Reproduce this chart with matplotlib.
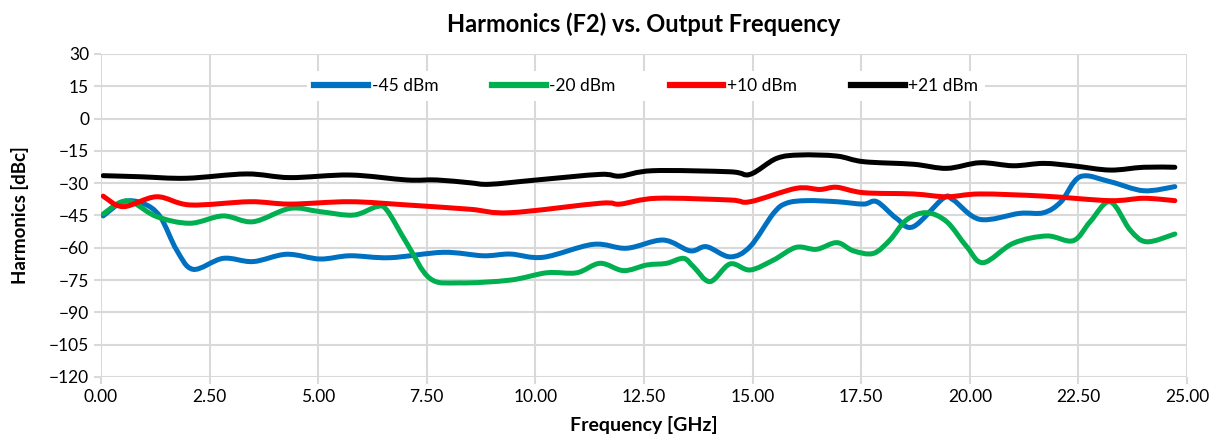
import numpy as np
import matplotlib.pyplot as plt
from matplotlib.path import Path
from matplotlib.patches import PathPatch

plt.rcParams['font.family'] = ['Lato', 'DejaVu Sans']

# -45 dBm
f_blue = [0.05, 0.51, 0.97, 1.36, 1.74, 2.12, 2.81, 3.5, 4.27, 5.04, 5.73, 6.65, 7.88, 8.8, 9.42, 10.18,
          11.33, 12.1, 12.94, 13.56, 13.94, 14.48, 14.94, 15.48, 15.78, 16.24, 16.94, 17.55, 17.86, 18.31,
          18.7, 19.39, 19.62, 20.23, 21.15, 21.7, 22.1, 22.54, 23.23, 24.0, 24.72]
h_blue = [-45.2, -38.6, -39.4, -45.5, -61, -70, -64.9, -66.4, -63, -65.2, -63.7, -64.6, -62.1, -63.7, -62.9, -64.4,
          -58.4, -60.2, -56.4, -61.4, -59.5, -64.2, -59.5, -44, -39.3, -38.1, -38.6, -39.7, -38.6, -46.3,
          -50.2, -37, -37.8, -46.8, -44, -43.7, -38.6, -27, -29.3, -33.5, -31.6]

# -20 dBm
f_green = [0.05, 0.44, 0.74, 1.28, 2.05, 2.81, 3.5, 4.35, 5.04, 5.81, 6.35, 6.58, 7.04, 7.57, 8.26, 9.42,
           10.26, 10.95, 11.49, 12.03, 12.56, 13.02, 13.41, 13.64, 14.02, 14.48, 14.94, 15.48, 16.0, 16.47,
           16.94, 17.32, 17.78, 18.16, 18.54, 19.0, 19.47, 19.93, 20.31, 21.0, 21.77, 22.38, 22.77, 23.23,
           23.69, 24.07, 24.72]
h_green = [-44.3, -38.9, -39, -45.5, -48.6, -45.2, -47.9, -41.7, -43.2, -44.8, -40.9, -42.5, -57.9, -74.2, -76.3, -75,
           -71.6, -71.6, -67.2, -70.6, -68, -67.2, -64.9, -68.8, -75.7, -67.5, -70.3, -65.7, -59.8, -60.7,
           -57.6, -61.4, -62.6, -56.4, -47.1, -43.7, -47.9, -59.5, -66.9, -57.9, -54.5, -56.7, -47.9, -38.6,
           -51.7, -57.2, -53.6]

# +10 dBm
f_red = [0.05, 0.51, 1.28, 2.05, 3.43, 4.35, 5.73, 7.04, 8.49, 9.42, 11.49, 11.95, 12.79, 14.48, 14.94,
         16.0, 16.55, 16.94, 17.55, 18.7, 19.47, 20.23, 21.7, 23.23, 24.0, 24.72]
h_red = [-36, -40.9, -36.3, -40.1, -38.6, -39.7, -38.6, -40.1, -42.1, -43.7, -39.3, -39.7, -37, -37.8, -38.6,
         -32.4, -32.9, -31.9, -34.4, -35, -36.3, -35, -36, -38.1, -37, -38.1]

# +21 dBm
f_black = [0.05, 0.9, 1.97, 3.35, 4.35, 5.73, 7.04, 7.73, 8.49, 8.95, 10.03, 11.49, 11.95, 12.7, 14.48, 14.94,
           15.55, 16.1, 16.94, 17.55, 18.7, 19.47, 20.23, 21.0, 21.7, 22.4, 23.23, 24.0, 24.72]
h_black = [-26.5, -27, -27.7, -25.7, -27.4, -26.2, -28.5, -28.5, -29.8, -30.5, -28.5, -25.9, -26.7, -24.2, -24.7, -25.9,
           -18.5, -16.9, -17.4, -20, -21.2, -23.1, -20.5, -21.9, -20.8, -22, -23.9, -22.6, -22.6]

series = [('-45 dBm', f_blue, h_blue, '#0070c0'),
          ('-20 dBm', f_green, h_green, '#00b050'),
          ('+10 dBm', f_red, h_red, '#ff0000'),
          ('+21 dBm', f_black, h_black, '#000000')]


def smooth_path(x, y):
    # excel-style smoothed line: cubic bezier through the points
    p = np.column_stack([x, y])
    pp = np.vstack([p[0], p, p[-1]])
    verts = [p[0]]
    codes = [Path.MOVETO]
    for i in range(len(p) - 1):
        c1 = pp[i + 1] + (pp[i + 2] - pp[i]) / 6
        c2 = pp[i + 2] - (pp[i + 3] - pp[i + 1]) / 6
        verts += [c1, c2, p[i + 1]]
        codes += [Path.CURVE4] * 3
    return Path(verts, codes)


fig = plt.figure(figsize=(12.12, 4.41), dpi=100)
ax = fig.add_axes([101 / 1212, 1 - 377 / 441, (1187 - 101) / 1212, (377 - 54) / 441])

for name, f, h, c in series:
    ax.add_patch(PathPatch(smooth_path(f, h), fill=False, edgecolor=c, lw=3.6,
                           joinstyle='round', capstyle='round'))
    ax.plot([], [], color=c, lw=4.5, label=name)

ax.set_xlim(0, 25)
ax.set_ylim(-120, 30)
xt = np.arange(0, 25.01, 2.5)
ax.set_xticks(xt)
ax.set_xticklabels(['%.2f' % v for v in xt])
ax.set_yticks(np.arange(-120, 31, 15))
ax.grid(True, color='#d9d9d9', lw=1.5)
ax.set_axisbelow(True)
for s in ax.spines.values():
    s.set_visible(False)
ax.tick_params(colors='#d9d9d9', width=1.5, length=5, labelcolor='black', labelsize=12.5)

ax.set_xlabel('Frequency [GHz]', fontsize=14, fontweight='bold', labelpad=8)
ax.set_ylabel('Harmonics [dBc]', fontsize=13.5, fontweight='bold', labelpad=14)
ax.set_title('Harmonics (F2) vs. Output Frequency', fontsize=17, fontweight='bold', pad=16)

leg = ax.legend(loc='center', bbox_to_anchor=(0.502, 0.901), ncol=4, frameon=True, fancybox=False,
                edgecolor='none', facecolor='white', framealpha=1, fontsize=12.5, handlelength=3.1,
                handletextpad=0.2, columnspacing=3.1, borderpad=0.4, borderaxespad=0)

fig.savefig('out.png', dpi=100)
